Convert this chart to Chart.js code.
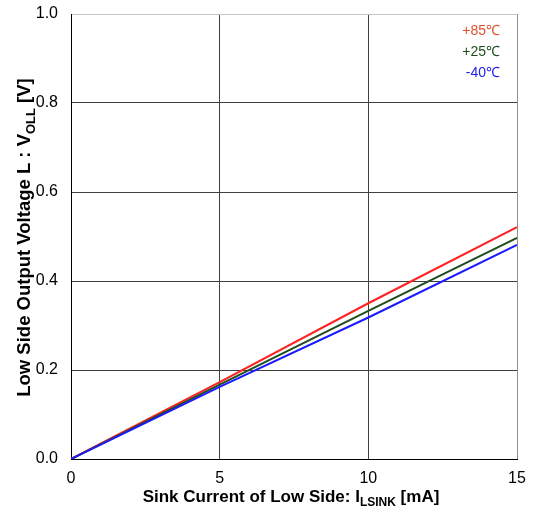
<!DOCTYPE html>
<html>
<head>
<meta charset="utf-8">
<script src="https://cdn.jsdelivr.net/npm/chart.js@4.4.0/dist/chart.umd.min.js"></script>
<style>
  html, body { margin: 0; padding: 0; background: #fff; }
  #wrap { width: 534px; height: 510px; }
</style>
</head>
<body>
<div id="wrap"><canvas id="chart" width="534" height="510"></canvas></div>
<script>
// sink current (mA)
var current = [0, 5, 10, 15]
// output voltage (V) per temperature
var v85 = [0, 0.173, 0.350, 0.521]
var v25 = [0, 0.167, 0.333, 0.497]
var vm40 = [0, 0.162, 0.318, 0.481]

var seriesLabels = ["+85\u2103", "+25\u2103", "-40\u2103"]
var lineColors = ["#ff2020", "#1e4d1e", "#1a1aff"]
var textColors = ["#e0502a", "#1e4d1e", "#2020ee"]

function toPoints(xs, ys) {
    var pts = []
    for (var i = 0; i < xs.length; i++) pts.push({x: xs[i], y: ys[i]})
    return pts
}

// draws text with a subscript part
function drawSub(ctx, parts, x, y, size) {
    var big = "bold " + size + "px 'Liberation Sans', Arial, sans-serif"
    var small = "bold " + Math.round(size * 0.68) + "px 'Liberation Sans', Arial, sans-serif"
    var total = 0
    parts.forEach(function (p) {
        ctx.font = p.sub ? small : big
        total += ctx.measureText(p.t).width
    })
    var cx = x - total / 2
    parts.forEach(function (p) {
        ctx.font = p.sub ? small : big
        ctx.fillText(p.t, cx, p.sub ? y + size * 0.25 : y)
        cx += ctx.measureText(p.t).width
    })
}

var extras = {
    id: "extras",
    afterDraw: function (chart) {
        var ctx = chart.ctx
        var area = chart.chartArea
        ctx.save()
        ctx.fillStyle = "#000"
        ctx.textBaseline = "alphabetic"
        ctx.textAlign = "left"
        // x title
        drawSub(ctx, [{t: "Sink Current of Low Side: I"}, {t: "LSINK", sub: true}, {t: " [mA]"}],
            (area.left + area.right) / 2 - 3, 502, 17)
        // y title
        ctx.save()
        ctx.translate(30, (area.top + area.bottom) / 2 + 1)
        ctx.rotate(-Math.PI / 2)
        drawSub(ctx, [{t: "Low Side Output Voltage L : V"}, {t: "OLL", sub: true}, {t: " [V]"}], 0, 0, 18.5)
        ctx.restore()
        // legend text
        ctx.font = "14px 'Liberation Sans', Arial, sans-serif"
        ctx.textAlign = "right"
        for (var i = 0; i < seriesLabels.length; i++) {
            ctx.fillStyle = textColors[i]
            ctx.fillText(seriesLabels[i], 500, 35 + i * 21)
        }
        ctx.restore()
    }
}

var datasets = []
var vals = [v85, v25, vm40]
for (var i = 0; i < vals.length; i++) {
    datasets.push({
        label: seriesLabels[i],
        data: toPoints(current, vals[i]),
        borderColor: lineColors[i],
        borderWidth: 2,
        pointRadius: 0,
        fill: false,
        tension: 0
    })
}
datasets.reverse()

var tickFont = {family: "'Liberation Sans', Arial, sans-serif", size: 16}

new Chart(document.getElementById("chart"), {
    type: "line",
    data: {datasets: datasets},
    options: {
        responsive: false,
        animation: false,
        layout: {padding: {top: 14, right: 17, left: 0, bottom: 0}},
        plugins: {legend: {display: false}, tooltip: {enabled: false}},
        scales: {
            x: {
                type: "linear",
                min: 0, max: 15,
                ticks: {stepSize: 5, color: "#000", font: tickFont, padding: 10, maxRotation: 0},
                grid: {
                    color: function (c) { return c.tick && c.tick.value == 15 ? "#909090" : "#404040" },
                    drawTicks: false, lineWidth: 1
                },
                border: {color: "#000"},
                afterFit: function (s) {
                    s.height = 51
                    s.paddingLeft = 0
                    s.paddingRight = 0
                }
            },
            y: {
                min: 0, max: 1.0,
                ticks: {stepSize: 0.2, color: "#000", font: tickFont, padding: 13,
                    callback: function (v) { return v.toFixed(1) }},
                grid: {
                    color: function (c) { return c.tick && c.tick.value == 1 ? "#c8c8c8" : "#404040" },
                    drawTicks: false, lineWidth: 1
                },
                border: {color: "#000"},
                afterFit: function (s) {
                    s.width = 71
                    s.paddingTop = 0
                    s.paddingBottom = 0
                }
            }
        }
    },
    plugins: [extras]
})
</script>
</body>
</html>
